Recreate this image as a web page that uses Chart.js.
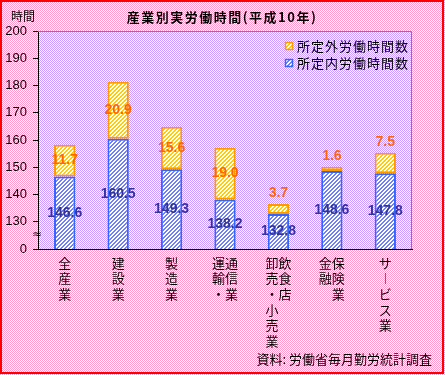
<!DOCTYPE html>
<html>
<head>
<meta charset="utf-8">
<script src="https://cdn.jsdelivr.net/npm/chart.js@4.4.0/dist/chart.umd.min.js"></script>
<style>
html,body{margin:0;padding:0;background:#fff;}
canvas{display:block;}
</style>
</head>
<body>
<canvas id="c" width="445" height="375"></canvas>
<script>
// ---- data ----
const categories = [
  ['全','産','業'],
  ['建','設','業'],
  ['製','造','業'],
  ['運通','輸信','・業'],
  ['卸飲','売食','・店','小　','売　','業　'],
  ['金保','融険','　業'],
  ['サ','︱','ビ','ス','業']
];
const scheduledHours = [146.6, 160.5, 149.3, 138.2, 132.8, 148.6, 147.8];
const overtimeHours  = [11.7, 20.9, 15.6, 19.0, 3.7, 1.6, 7.5];
const seriesNames = ['所定内労働時間数', '所定外労働時間数'];
const yTickValues = [120, 130, 140, 150, 160, 170, 180, 190, 200];
const titleText = '産業別実労働時間(平成10年)';
const yUnitText = '時間';
const sourceText = '資料: 労働省毎月勤労統計調査';

const JP = '"Noto Sans CJK JP", sans-serif';

const canvas = document.getElementById('c');
const ctx = canvas.getContext('2d');

function checker(c1, c2) {
  const cv = document.createElement('canvas');
  cv.width = 2; cv.height = 2;
  const x = cv.getContext('2d');
  x.fillStyle = c2; x.fillRect(0, 0, 2, 2);
  x.fillStyle = c1; x.fillRect(0, 0, 1, 1); x.fillRect(1, 1, 1, 1);
  return ctx.createPattern(cv, 'repeat');
}
function hatch(c1, c2) {
  const cv = document.createElement('canvas');
  cv.width = 4; cv.height = 4;
  const x = cv.getContext('2d');
  x.fillStyle = c2; x.fillRect(0, 0, 4, 4);
  x.fillStyle = c1;
  for (let i = 0; i < 4; i++) for (let j = 0; j < 4; j++) {
    if ((i + j) % 4 < 2) x.fillRect(i, j, 1, 1);
  }
  return ctx.createPattern(cv, 'repeat');
}
const pinkBg = checker('#ff99cc', '#ffffff');
const purpleBg = checker('#cc99ff', '#ffffff');
const blueHatch = hatch('#7080f0', '#ffffff');
const yellowHatch = hatch('#ffcc00', '#ffffff');

const bgPlugin = {
  id: 'bgPlugin',
  beforeDraw(chart) {
    const c = chart.ctx, a = chart.chartArea;
    c.save();
    c.fillStyle = pinkBg;
    c.fillRect(0, 0, chart.width, chart.height);
    c.fillStyle = purpleBg;
    c.fillRect(a.left, a.top, a.right - a.left, a.bottom - a.top);
    c.strokeStyle = '#ff0000';
    c.lineWidth = 2;
    c.strokeRect(1, 1, 442, 372);
    c.restore();
  },
  afterDraw(chart) {
    const c = chart.ctx, a = chart.chartArea;
    c.save();
    // gray top/right frame
    c.strokeStyle = '#808080';
    c.lineWidth = 1;
    c.beginPath();
    c.moveTo(a.left, a.top + 0.5);
    c.lineTo(a.right - 0.5, a.top + 0.5);
    c.lineTo(a.right - 0.5, a.bottom);
    c.stroke();
    // title
    c.fillStyle = '#000';
    c.textBaseline = 'middle';
    c.textAlign = 'center';
    c.font = 'bold 13px ' + JP;
    c.letterSpacing = '1.5px';
    c.fillText(titleText, 222, 17);
    c.letterSpacing = '0px';
    // unit
    c.font = '12px ' + JP;
    c.textAlign = 'left';
    c.fillText(yUnitText, 11, 16);
    // source
    c.font = '13px ' + JP;
    c.textAlign = 'right';
    c.fillText(sourceText, 432, 359);
    // axis break mark
    const ys = chart.scales.y;
    c.font = '12px "DejaVu Sans", sans-serif';
    c.textAlign = 'center';
    c.fillText('≈', 37, ys.getPixelForValue(125.2));
    // legend
    const items = [
      {label: chart.data.datasets[1].label, fill: yellowHatch, border: '#ff9900'},
      {label: chart.data.datasets[0].label, fill: blueHatch, border: '#3366ff'}
    ];
    c.font = '13px ' + JP;
    c.textAlign = 'left';
    c.letterSpacing = '1px';
    items.forEach((it, i) => {
      const yy = 46 + i * 17;
      c.fillStyle = it.fill;
      c.fillRect(285, yy - 4, 8, 8);
      c.strokeStyle = it.border;
      c.lineWidth = 1.5;
      c.strokeRect(285.5, yy - 3.5, 7, 7);
      c.fillStyle = '#000';
      c.fillText(it.label, 297, yy);
    });
    c.letterSpacing = '0px';
    c.restore();
  }
};

const labelPlugin = {
  id: 'labelPlugin',
  afterDatasetsDraw(chart) {
    const c = chart.ctx;
    const bottom = chart.chartArea.bottom;
    c.save();
    c.font = 'bold 14px "Liberation Sans", Arial, sans-serif';
    c.textAlign = 'center';
    c.textBaseline = 'middle';
    const m0 = chart.getDatasetMeta(0);
    m0.data.forEach((el, i) => {
      c.fillStyle = '#333399';
      c.fillText(scheduledHours[i].toFixed(1), el.x, (el.y + Math.min(el.base, bottom)) / 2);
    });
    const m1 = chart.getDatasetMeta(1);
    m1.data.forEach((el, i) => {
      const v = overtimeHours[i];
      const top = Math.min(el.y, el.base);
      const cy = v >= 10 ? (el.y + el.base) / 2 : top - 11;
      c.fillStyle = '#ff6600';
      c.fillText(v.toFixed(1), el.x, cy);
    });
    c.restore();
  }
};

new Chart(canvas, {
  type: 'bar',
  data: {
    labels: categories,
    datasets: [
      {
        label: seriesNames[0],
        data: scheduledHours,
        backgroundColor: blueHatch,
        borderColor: '#3366ff',
        borderWidth: 2,
        borderSkipped: false,
        barPercentage: 0.4,
        categoryPercentage: 1
      },
      {
        label: seriesNames[1],
        data: overtimeHours,
        backgroundColor: yellowHatch,
        borderColor: '#ff9900',
        borderWidth: 2,
        borderSkipped: false,
        barPercentage: 0.4,
        categoryPercentage: 1
      }
    ]
  },
  options: {
    responsive: false,
    animation: false,
    events: [],
    layout: { padding: { left: 0, top: 31, right: 33, bottom: 0 } },
    plugins: {
      legend: { display: false },
      title: { display: false },
      tooltip: { enabled: false }
    },
    scales: {
      x: {
        stacked: true,
        grid: { display: false, drawTicks: false },
        border: { display: true, color: '#000', width: 1 },
        ticks: {
          color: '#000',
          font: { family: JP, size: 13, lineHeight: 1.2 },
          padding: 6,
          maxRotation: 0,
          autoSkip: false
        },
        afterFit(s) { s.height = 126; }
      },
      y: {
        stacked: true,
        min: 120,
        max: 200,
        afterBuildTicks(s) { s.ticks = yTickValues.map(v => ({ value: v })); },
        grid: { drawOnChartArea: false, color: '#000', tickLength: 5 },
        border: { display: true, color: '#000', width: 1 },
        ticks: {
          color: '#000',
          font: { family: '"Liberation Sans", Arial, sans-serif', size: 13 },
          padding: 6,
          callback: (v) => v === 120 ? '0' : String(v)
        },
        afterFit(s) { s.width = 38; }
      }
    }
  },
  plugins: [bgPlugin, labelPlugin]
});
</script>
</body>
</html>
